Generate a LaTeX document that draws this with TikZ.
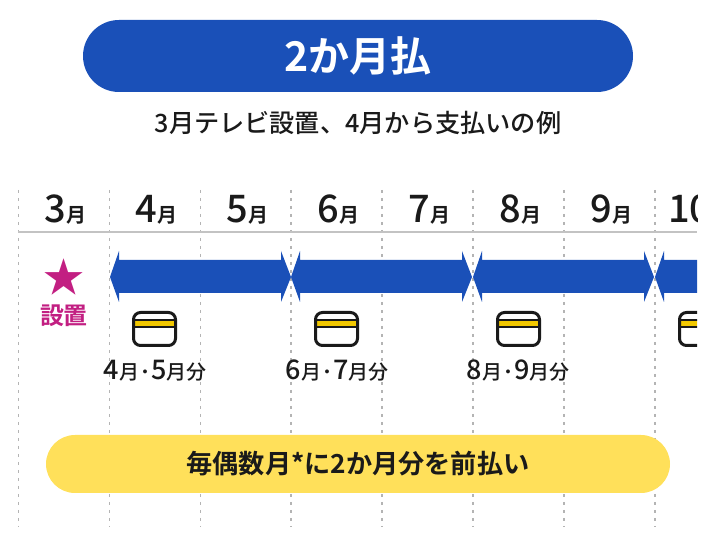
\documentclass[tikz,border=0pt]{standalone}
\usepackage{fontspec}
\usepackage{xcolor}
\setmainfont{Noto Sans CJK JP Medium}[BoldFont={Noto Sans CJK JP Bold}]
\usetikzlibrary{positioning}

\definecolor{payblue}{HTML}{1A50B8}
\definecolor{payyellow}{HTML}{FFE05A}
\definecolor{paystripe}{HTML}{F2C800}
\definecolor{paymagenta}{HTML}{C21F82}
\definecolor{payink}{HTML}{1A1A1A}
\definecolor{paygrid}{HTML}{B4B4B4}

\newcommand{\dg}[1]{{\fontsize{38}{38}\selectfont #1}}
\newcommand{\mo}{{\fontsize{20}{20}\selectfont\bfseries 月}}
\newcommand{\sdg}[1]{{\fontsize{27}{27}\selectfont #1}}
\newcommand{\pt}{\kern1pt{\fontsize{20}{20}\selectfont\bfseries ･}\kern1pt}

\tikzset{
  every node/.style={text=payink, inner sep=0pt},
  monthlabel/.style={anchor=base, text height=30pt},
  nextmonth/.style={right=91pt of #1, anchor=base},
  gridline/.style={paygrid, line width=1.2pt, dash pattern=on 3pt off 5pt},
  paybar/.pic={
    \fill[payblue] (0,0) -- (9,-26) -- (9,-17) -- (171,-17) -- (171,-26) -- (181,0)
      -- (171,25) -- (171,16) -- (9,16) -- (9,25) -- cycle;
  },
  paycard/.pic={
    \fill[paystripe] (1,9.5) rectangle (44,15.5);
    \draw[payink, line width=1.5pt] (1,9) -- (44,9) (1,16) -- (44,16);
    \draw[payink, line width=3pt, rounded corners=7pt] (1.5,1.5) rectangle (43.5,34.5);
  },
  paylabel/.style={anchor=base, font=\fontsize{20}{20}\selectfont},
}

\begin{document}
\begin{tikzpicture}[x=1pt, y=-1pt]
  \useasboundingbox (0,0) rectangle (716,545);

  \begin{scope}
    \clip (0,0) rectangle (697,545);

    % columns
    \coordinate (top0) at (18.5,190);  \coordinate (bot0) at (18.5,527);
    \coordinate (top1) at (109.5,190); \coordinate (bot1) at (109.5,527);
    \coordinate (top2) at (200.5,190); \coordinate (bot2) at (200.5,527);
    \coordinate (top3) at (291,190);   \coordinate (bot3) at (291,527);
    \coordinate (top4) at (382,190);   \coordinate (bot4) at (382,527);
    \coordinate (top5) at (473,190);   \coordinate (bot5) at (473,527);
    \coordinate (top6) at (564,190);   \coordinate (bot6) at (564,527);
    \coordinate (top7) at (655,190);   \coordinate (bot7) at (655,527);
    \draw[gridline] (top0) -- (bot0);
    \draw[gridline] (top1) -- (bot1);
    \draw[gridline] (top2) -- (bot2);
    \draw[gridline] (top3) -- (bot3);
    \draw[gridline] (top4) -- (bot4);
    \draw[gridline] (top5) -- (bot5);
    \draw[gridline] (top6) -- (bot6);
    \draw[gridline] (top7) -- (bot7);

    \coordinate (rulel) at (18,232);
    \coordinate (ruler) at (697,232);
    \draw[paygrid!80, line width=1.2pt] (rulel) -- (ruler);

    % months
    \node (m3) [monthlabel] at (65.5,223) {\dg{3}\mo};
    \node (m4) [nextmonth=m3.base] {\dg{4}\mo};
    \node (m5) [nextmonth=m4.base] {\dg{5}\mo};
    \node (m6) [nextmonth=m5.base] {\dg{6}\mo};
    \node (m7) [nextmonth=m6.base] {\dg{7}\mo};
    \node (m8) [nextmonth=m7.base] {\dg{8}\mo};
    \node (m9) [nextmonth=m8.base] {\dg{9}\mo};
    \node (m10) [anchor=base west] at (668,223) {\dg{10}};

    % bars
    \pic at (110,277) {paybar};
    \pic at (291,277) {paybar};
    \pic at (473,277) {paybar};
    \pic at (655,277) {paybar};

    % cards
    \pic at (132,311) {paycard};
    \pic at (314,311) {paycard};
    \pic at (496,311) {paycard};
    \pic at (678,311) {paycard};
  \end{scope}

  \node (title) [fill=payblue, rounded corners=36pt, minimum width=550pt, minimum height=72pt,
    text=white, font=\bfseries\fontsize{41}{41}\selectfont] at (358,56) {2か月払};
  \node (sub) [below=19pt of title, font=\fontsize{25.2}{25.2}\selectfont] {3月テレビ設置、4月から支払いの例};

  \node (star) [text=paymagenta, font=\fontsize{41}{41}\selectfont] at (64,277) {★};
  \node (setti) [text=paymagenta, font=\bfseries\fontsize{24}{24}\selectfont] at (64,316) {設置};

  \node (p1) [paylabel] at (155,380) {\sdg{4}月\pt\sdg{5}月分};
  \node (p2) [paylabel] at (337,380) {\sdg{6}月\pt\sdg{7}月分};
  \node (p3) [paylabel] at (518,380) {\sdg{8}月\pt\sdg{9}月分};

  \node (note) [fill=payyellow, rounded corners=29pt, minimum width=624pt, minimum height=58pt,
    font=\bfseries\fontsize{26.2}{26.2}\selectfont] at (358,464) {毎偶数月*に2か月分を前払い};
\end{tikzpicture}
\end{document}
